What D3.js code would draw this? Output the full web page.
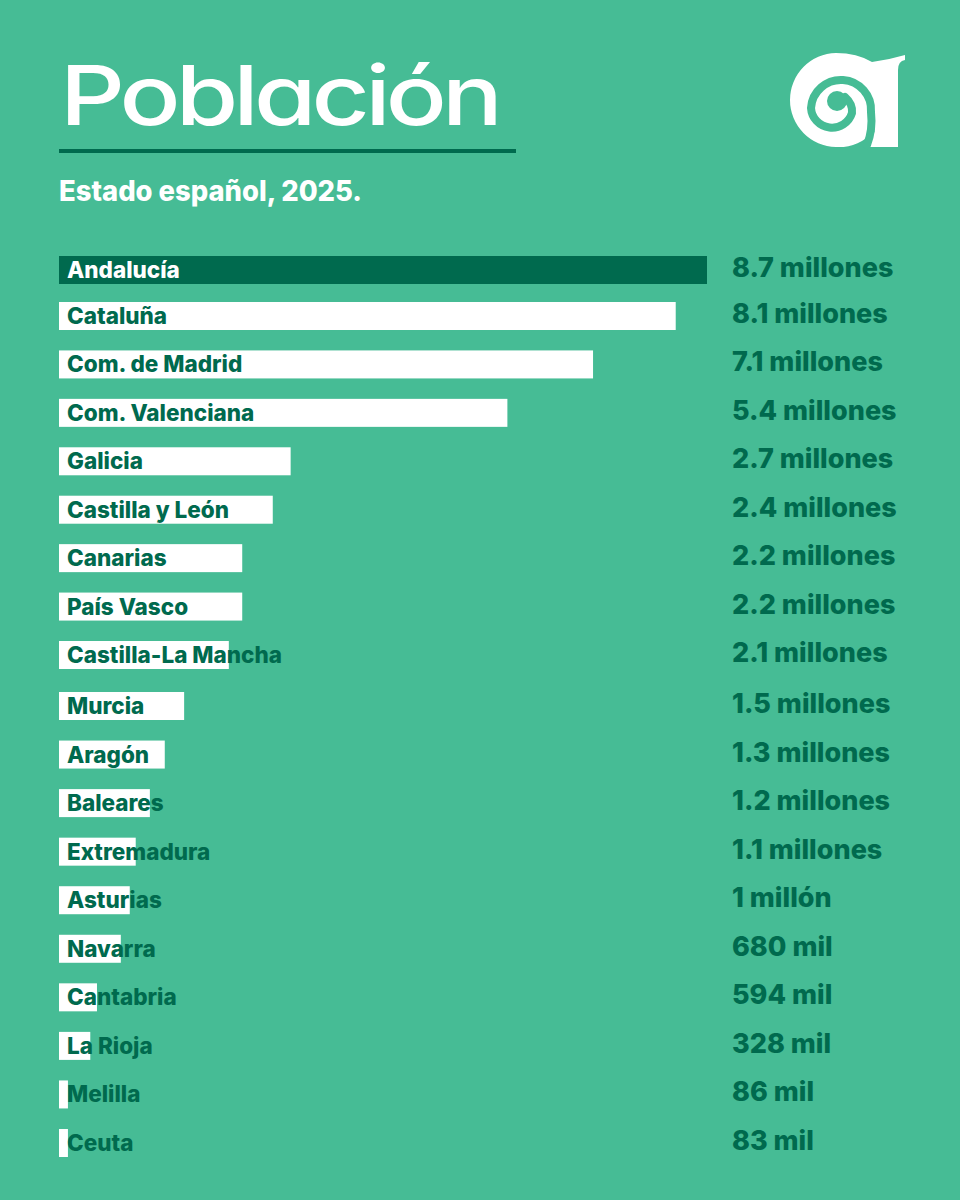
<!DOCTYPE html>
<html><head><meta charset="utf-8">
<style>html,body{margin:0;padding:0;background:#46bc95}svg{display:block}</style>
<script src="https://cdn.jsdelivr.net/npm/d3@7/dist/d3.min.js"></script>
</head><body><script>
const regions=["Andalucía","Cataluña","Com. de Madrid","Com. Valenciana","Galicia","Castilla y León","Canarias","País Vasco","Castilla-La Mancha","Murcia","Aragón","Baleares","Extremadura","Asturias","Navarra","Cantabria","La Rioja","Melilla","Ceuta"];
const barLengths=[8.7,8.28,7.17,6.02,3.11,2.87,2.46,2.46,2.28,1.68,1.42,1.22,1.03,0.95,0.83,0.51,0.42,0.12,0.12];
const valueLabels=["8.7 millones","8.1 millones","7.1 millones","5.4 millones","2.7 millones","2.4 millones","2.2 millones","2.2 millones","2.1 millones","1.5 millones","1.3 millones","1.2 millones","1.1 millones","1 millón","680 mil","594 mil","328 mil","86 mil","83 mil"];
const bg="#46bc95",dark="#006a4e",font="Inter, sans-serif";
const svg=d3.select("body").append("svg").attr("width",960).attr("height",1200).attr("viewBox","0 0 960 1200");
svg.append("rect").attr("width",960).attr("height",1200).attr("fill",bg);
const x=d3.scaleLinear().domain([0,8.7]).range([59,707]);
const y=d3.scaleLinear().domain([0,1,8,9,18]).range([270,316,655,706,1143]);
const rows=regions.map((r,i)=>({r,i,len:barLengths[i],lab:valueLabels[i]}));
svg.append("text").attr("x",60).attr("y",125).attr("font-family",font).attr("font-weight",500).attr("font-size",83).attr("letter-spacing",-4).attr("fill","#fff").style("font-feature-settings","'cv11' 1").attr("textLength",438).attr("lengthAdjust","spacingAndGlyphs").text("Población");
svg.append("rect").attr("x",59).attr("y",149).attr("width",457).attr("height",4).attr("fill",dark);
svg.append("text").attr("x",59).attr("y",201).attr("font-family",font).attr("font-weight",800).attr("font-size",28).attr("fill","#fff").attr("textLength",303).attr("lengthAdjust","spacingAndGlyphs").text("Estado español, 2025.");
svg.selectAll("rect.bar").data(rows).join("rect").attr("class","bar").attr("x",x(0)).attr("y",d=>y(d.i)-14).attr("width",d=>x(d.len)-x(0)).attr("height",28).attr("fill",d=>d.i===0?dark:"#fff");
svg.selectAll("text.name").data(rows).join("text").attr("class","name").attr("x",67).attr("y",d=>y(d.i)+8).attr("font-family",font).attr("font-weight",800).attr("font-size",22.5).attr("fill",d=>d.i===0?"#fff":dark).text(d=>d.r);
svg.selectAll("text.val").data(rows).join("text").attr("class","val").attr("x",732).attr("y",d=>y(d.i)+7).attr("font-family",font).attr("font-weight",800).attr("font-size",27).attr("fill",dark).text(d=>d.lab);
const logo=svg.append("g");
logo.append("path").attr("fill","#fff").attr("d","M872 62 Q888 60 905 55 L905 60 Q898 61 898 70 L898 147 L869 147 Q866 147 867 144 Q873 138 875 130 A47 47 0 0 1 836 147 A47 47 0 0 1 790 100 A47 47 0 0 1 836 53 Q857 53 872 62 Z");
logo.append("path").attr("fill","none").attr("stroke",bg).attr("stroke-width",8).attr("stroke-linecap","round").attr("d","M867 145 Q873 130 871 112 A30 30 0 0 0 811 108 A21 21 0 0 0 852 113 Q853 104 845 97");
logo.append("circle").attr("cx",837).attr("cy",101).attr("r",10).attr("fill",bg);
</script></body></html>
